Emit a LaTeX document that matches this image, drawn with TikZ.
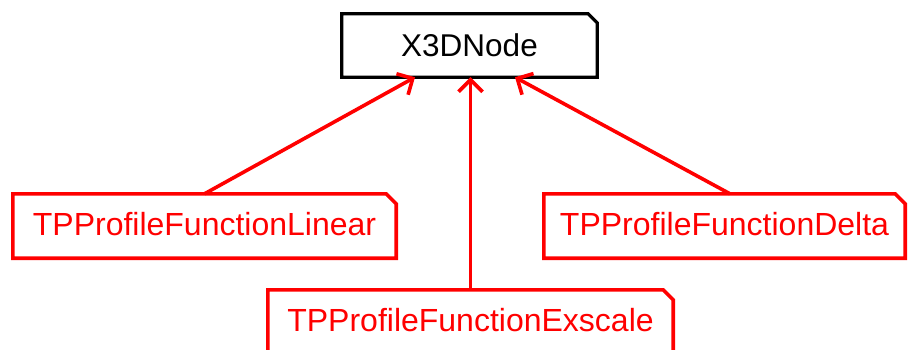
\documentclass[tikz,border=0pt]{standalone}
\usepackage{fontspec}
\setmainfont{Liberation Sans}
\usetikzlibrary{arrows.meta}
\definecolor{umlred}{RGB}{255,0,0}
\tikzset{
  x=1pt, y=-1pt,
  classbox/.style={draw=none, minimum height=64pt, inner sep=0pt},
  blackclass/.style={classbox, text=black, font=\fontsize{31.5}{36}\selectfont},
  redclass/.style={classbox, text=umlred, font=\fontsize{32}{36}\selectfont},
  inherit/.style={draw=umlred, line width=3.6pt,
    -{Straight Barb[length=12pt,width=24pt,line width=3.6pt]}},
}
% outline of a class box with its top right corner cut off
\newcommand{\cutbox}[4]{%
  \draw[#2, line width=#4pt, line join=miter, fill=white]
    (#1.south west) -- (#1.north west) -- ([xshift=-#3pt]#1.north east)
    -- ([yshift=-#3pt]#1.north east) -- (#1.south east) -- cycle;}
\begin{document}
\begin{tikzpicture}
\useasboundingbox (0,0) rectangle (908,349);
\clip (0,0) rectangle (908,349);

% node geometry
\path
  (469.5,45.5) node[blackclass, minimum width=255pt, minimum height=63pt] (base) {}
  (204.5,226)  node[redclass, minimum width=383pt] (linear) {}
  (724.5,226)  node[redclass, minimum width=361pt] (delta) {}
  (470.5,322)  node[redclass, minimum width=405pt] (exscale) {};

% outlines
\cutbox{base}{black}{9}{3.2}
\cutbox{linear}{umlred}{10}{3.6}
\cutbox{delta}{umlred}{10}{3.6}
\cutbox{exscale}{umlred}{10}{3.6}

% labels
\node[blackclass] at (base) {X3DNode};
\node[redclass] at ([yshift=2pt]linear.center) {TPProfileFunctionLinear};
\node[redclass] at ([yshift=2pt]delta.center) {TPProfileFunctionDelta};
\node[redclass] at ([yshift=2pt]exscale.center) {TPProfileFunctionExscale};

% generalisation arrows
\draw[inherit] (linear.north) -- ([xshift=-54.5pt]base.south);
\draw[inherit] ([xshift=5.5pt]delta.north) -- ([xshift=45.5pt]base.south);
\draw[inherit] (exscale.north) -- (exscale.north |- base.south);
\end{tikzpicture}
\end{document}
